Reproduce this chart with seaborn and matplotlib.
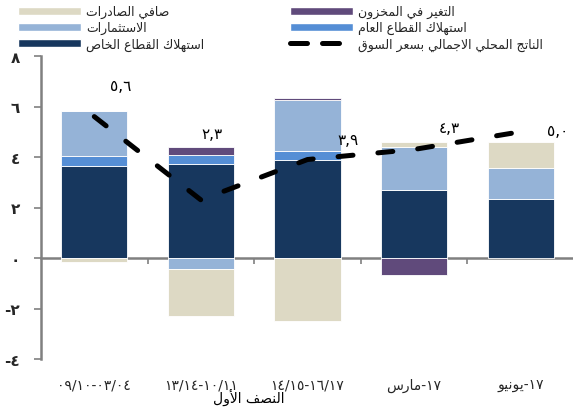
import numpy as np
import pandas as pd
import matplotlib
matplotlib.use("Agg")
import matplotlib.pyplot as plt
import seaborn as sns
from matplotlib.patches import Patch
from matplotlib.lines import Line2D

# ---------------- Arabic shaping helper (visual order for matplotlib) -------------
FORMS = {
    'ا': ('\uFE8D', '\uFE8E', None, None),
    'أ': ('\uFE83', '\uFE84', None, None),
    'ب': ('\uFE8F', '\uFE90', '\uFE91', '\uFE92'),
    'ت': ('\uFE95', '\uFE96', '\uFE97', '\uFE98'),
    'ث': ('\uFE99', '\uFE9A', '\uFE9B', '\uFE9C'),
    'ج': ('\uFE9D', '\uFE9E', '\uFE9F', '\uFEA0'),
    'ح': ('\uFEA1', '\uFEA2', '\uFEA3', '\uFEA4'),
    'خ': ('\uFEA5', '\uFEA6', '\uFEA7', '\uFEA8'),
    'د': ('\uFEA9', '\uFEAA', None, None),
    'ر': ('\uFEAD', '\uFEAE', None, None),
    'ز': ('\uFEAF', '\uFEB0', None, None),
    'س': ('\uFEB1', '\uFEB2', '\uFEB3', '\uFEB4'),
    'ص': ('\uFEB9', '\uFEBA', '\uFEBB', '\uFEBC'),
    'ط': ('\uFEC1', '\uFEC2', '\uFEC3', '\uFEC4'),
    'ع': ('\uFEC9', '\uFECA', '\uFECB', '\uFECC'),
    'غ': ('\uFECD', '\uFECE', '\uFECF', '\uFED0'),
    'ف': ('\uFED1', '\uFED2', '\uFED3', '\uFED4'),
    'ق': ('\uFED5', '\uFED6', '\uFED7', '\uFED8'),
    'ك': ('\uFED9', '\uFEDA', '\uFEDB', '\uFEDC'),
    'ل': ('\uFEDD', '\uFEDE', '\uFEDF', '\uFEE0'),
    'م': ('\uFEE1', '\uFEE2', '\uFEE3', '\uFEE4'),
    'ن': ('\uFEE5', '\uFEE6', '\uFEE7', '\uFEE8'),
    'ه': ('\uFEE9', '\uFEEA', '\uFEEB', '\uFEEC'),
    'و': ('\uFEED', '\uFEEE', None, None),
    'ي': ('\uFEF1', '\uFEF2', '\uFEF3', '\uFEF4'),
    'LA': ('\uFEFB', '\uFEFC', None, None),
    'LAH': ('\uFEF7', '\uFEF8', None, None),
}


def shape(text):
    chars = []
    i = 0
    while i < len(text):
        c = text[i]
        if c == 'ل' and i + 1 < len(text) and text[i + 1] in ('ا', 'أ'):
            chars.append('LA' if text[i + 1] == 'ا' else 'LAH')
            i += 2
        else:
            chars.append(c)
            i += 1
    out = []
    for k, c in enumerate(chars):
        if c not in FORMS:
            out.append(c)
            continue
        prev = chars[k - 1] if k > 0 else None
        nxt = chars[k + 1] if k + 1 < len(chars) else None
        pj = prev in FORMS and FORMS[prev][2] is not None
        nj = FORMS[c][2] is not None and nxt in FORMS
        iso, fin, ini, med = FORMS[c]
        if pj and nj:
            out.append(med)
        elif pj:
            out.append(fin)
        elif nj:
            out.append(ini)
        else:
            out.append(iso)
    return ''.join(reversed(out))


# ---------------- data ----------------
categories = ["٠٩/١٠-٠٣/٠٤", "١٣/١٤-١٠/١١", "١٤/١٥-١٦/١٧",
              shape("مارس") + "-١٧", shape("يونيو") + "-١٧"]
private_cons = [3.65, 3.72, 3.87, 2.68, 2.35]
public_cons = [0.38, 0.34, 0.38, 0.0, 0.0]
investment = [1.80, -0.43, 2.02, 1.71, 1.23]
inventory = [0.0, 0.35, 0.07, -0.67, 0.0]
net_exports = [-0.14, -1.85, -2.49, 0.21, 1.02]
gdp = [5.6, 2.3, 3.9, 4.3, 5.0]
gdp_labels = ["٥,٦", "٢,٣", "٣,٩", "٤,٣", "٥,٠"]
ytick_vals = [-4, -2, 0, 2, 4, 6, 8]
ytick_labels = ["-٤", "-٢", "٠", "٢", "٤", "٦", "٨"]

names = {
    "exports": shape("صافي الصادرات"),
    "investment": shape("الاستثمارات"),
    "private": shape("استهلاك القطاع الخاص"),
    "inventory": shape("التغير في المخزون"),
    "public": shape("استهلاك القطاع العام"),
    "gdp": shape("الناتج المحلي الاجمالي بسعر السوق"),
}
subtitle = shape("النصف الأول")

# label placement (offsets in data units, styling only)
label_dx = [0.25, 0.10, 0.38, 0.33, 0.35]
label_dy = [1.25, 2.65, 0.80, 0.85, 0.05]

colors = {
    "private": "#17375E",
    "public": "#558ED5",
    "investment": "#95B3D7",
    "inventory": "#604A7B",
    "exports": "#DDD9C4",
}

# ---------------- plot ----------------
sns.set_style("white")
plt.rcParams["font.family"] = ["DejaVu Sans"]

fig = plt.figure(figsize=(5.73, 4.14), dpi=100)
ax = fig.add_axes([41 / 573, 1 - 360 / 414, (574 - 41) / 573, (360 - 57) / 414])

series = [("private", private_cons), ("public", public_cons),
          ("investment", investment), ("inventory", inventory),
          ("exports", net_exports)]
pos_base = np.zeros(len(categories))
neg_base = np.zeros(len(categories))
for key, vals in series:
    vals = np.array(vals, dtype=float)
    bottoms = np.where(vals >= 0, pos_base, neg_base)
    df = pd.DataFrame({"cat": categories, "val": vals})
    sns.barplot(data=df, x="cat", y="val", order=categories, color=colors[key],
                width=0.62, bottom=bottoms, edgecolor="white", linewidth=0.6,
                saturation=1, ax=ax, errorbar=None)
    pos_base = pos_base + np.where(vals >= 0, vals, 0)
    neg_base = neg_base + np.where(vals < 0, vals, 0)

xpos = np.arange(len(categories))
sns.lineplot(x=xpos, y=gdp, color="black", linewidth=3.6, ax=ax,
             linestyle=(0, (3, 5)), dash_capstyle="round")

for i, lab in enumerate(gdp_labels):
    ax.text(xpos[i] + label_dx[i], gdp[i] + label_dy[i], lab, ha="center",
            va="center", fontsize=11, color="black")

ax.set_xlim(-0.5, 4.5)
ax.set_ylim(-4, 8)
ax.set_yticks(ytick_vals)
ax.set_yticklabels(ytick_labels, fontsize=11, fontweight="bold")
ax.set_xticks(xpos)
ax.set_xticklabels(categories, fontsize=10)
ax.set_xticks(xpos[:-1] + 0.5, minor=True)
ax.set_xlabel("")
ax.set_ylabel("")

for s in ["top", "right"]:
    ax.spines[s].set_visible(False)
ax.spines["left"].set_color("#808080")
ax.spines["left"].set_linewidth(1.8)
ax.spines["bottom"].set_position(("data", 0))
ax.spines["bottom"].set_color("#808080")
ax.spines["bottom"].set_linewidth(1.8)
ax.spines["bottom"].set_zorder(0.5)
ax.tick_params(axis="y", which="major", length=5, width=1.2, color="#808080",
               direction="out", pad=10, left=True)
ax.tick_params(axis="x", which="major", length=0, pad=86, bottom=True)
ax.tick_params(axis="x", which="minor", length=4, width=1.2, color="#808080",
               direction="out", bottom=True)

sub = ax.text(1.45, -5.15, subtitle, ha="center", va="top", fontsize=10,
              color="black")
sub.set_clip_on(False)

# ---------------- legends ----------------
h1 = [Patch(facecolor=colors["exports"]), Patch(facecolor=colors["investment"]),
      Patch(facecolor=colors["private"])]
l1 = [names["exports"], names["investment"], names["private"]]
h2 = [Patch(facecolor=colors["inventory"]), Patch(facecolor=colors["public"]),
      Line2D([0], [0], color="black", lw=3.6, linestyle=(0, (3.4, 3.0)),
             dash_capstyle="round")]
l2 = [names["inventory"], names["public"], names["gdp"]]

common = dict(loc="upper left", frameon=False, fontsize=9, handlelength=5.0,
              handleheight=0.6, handletextpad=0.45, labelspacing=0.25,
              borderpad=0, borderaxespad=0)
leg1 = fig.legend(h1, l1, bbox_to_anchor=(18 / 573, 1 - 6 / 414), **common)
leg2 = fig.legend(h2, l2, bbox_to_anchor=(290 / 573, 1 - 6 / 414), **common)

fig.savefig("out.png", dpi=100)
